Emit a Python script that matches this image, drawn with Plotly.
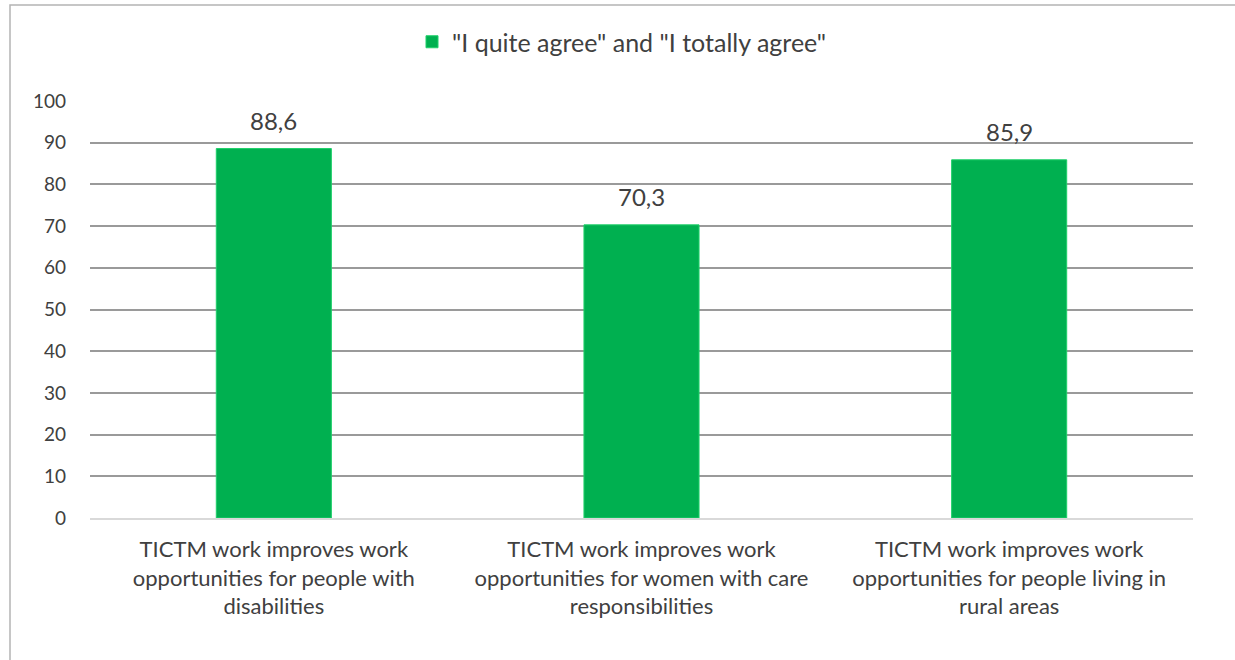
import plotly.graph_objects as go

categories = [
    "TICTM work improves work<br>opportunities for people with<br>disabilities",
    "TICTM work improves work<br>opportunities for women with care<br>responsibilities",
    "TICTM work improves work<br>opportunities for people living in<br>rural areas",
]
values = [88.6, 70.3, 85.9]
series_name = '"I quite agree" and "I totally agree"'
y_ticks = list(range(0, 101, 10))

FONT = "Lato"
TXT = "#404040"
GREEN = "#00B050"

W, H = 1235, 660
L, T = 90, 101
pw, ph = 1103, 417
R = W - L - pw
B = H - T - ph


def px_x(x):
    return (x - L) / pw


def px_y(y):
    return (T + ph - y) / ph


fig = go.Figure()
fig.add_trace(go.Bar(
    x=categories, y=values, name=series_name,
    marker=dict(color=GREEN, line=dict(color="#1fd06a", width=1)),
    showlegend=True,
))

for c, v in zip(categories, values):
    fig.add_annotation(
        x=c, y=v, xref="x", yref="y",
        text=f"{v:.1f}".replace(".", ","),
        showarrow=False, yanchor="middle", yshift=28,
        font=dict(family=FONT, size=24, color=TXT),
    )

fig.add_shape(type="rect", xref="paper", yref="paper",
              x0=px_x(10), x1=px_x(1260), y0=px_y(690), y1=px_y(5),
              line=dict(color="#b4b4b4", width=1.5), fillcolor="rgba(0,0,0,0)",
              layer="below")

fig.update_layout(
    width=W, height=H,
    margin=dict(l=L, r=R, t=T, b=B),
    paper_bgcolor="white", plot_bgcolor="white",
    bargap=0.687,
    font=dict(family=FONT, size=18, color=TXT),
    legend=dict(orientation="h", x=px_x(622), xanchor="center",
                y=px_y(42), yanchor="middle",
                font=dict(family=FONT, size=25, color=TXT),
                itemwidth=30),
    xaxis=dict(showgrid=False, showline=True, linecolor="#d9d9d9", linewidth=1.5,
               ticks="", tickfont=dict(family=FONT, size=22, color=TXT),
               ticklabelstandoff=11),
    yaxis=dict(range=[0, 100], tickvals=y_ticks, showgrid=True,
               gridcolor="#9a9a9a", gridwidth=1.5, zeroline=False,
               showline=False, ticks="",
               tickfont=dict(family=FONT, size=19, color=TXT),
               ticklabelstandoff=23),
)

fig.write_html(
    "out.html",
    config={"displayModeBar": False},
    post_script="document.body.style.margin='0px';document.body.style.overflow='hidden';",
)
